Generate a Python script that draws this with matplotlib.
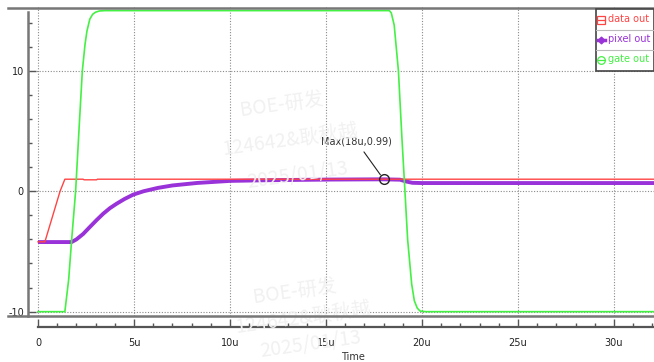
import matplotlib
matplotlib.use("Agg")
import numpy as np
from matplotlib import pyplot as plt
from matplotlib.lines import Line2D
from matplotlib.patches import Rectangle

# values (time in us)
gate_t = [0, 1.40, 1.60, 1.75, 1.96, 2.15, 2.31, 2.45, 2.55, 2.70, 2.85, 3.00, 3.20, 3.50,
          18.30, 18.40, 18.55, 18.77, 18.95, 19.11, 19.25, 19.46, 19.60, 19.75, 19.90, 20.20, 32.1]
gate_v = [-10, -10, -7.3, -4.1, 0, 5.5, 10, 12.2, 13.3, 14.3, 14.7, 14.87, 14.97, 15,
          15, 14.8, 13.8, 10, 4.5, 0, -4, -7.7, -9.1, -9.7, -9.95, -10, -10]

data_t = [0, 0.36, 1.15, 1.40, 2.35, 2.40, 3.05, 3.10, 32.1]
data_v = [-4.2, -4.2, 0, 1.0, 1.0, 0.95, 0.95, 1.0, 1.0]

pix_t = [0, 1.75, 2.0, 2.35, 2.7, 3.05, 3.4, 3.75, 4.1, 4.5, 4.96, 5.5, 6.25, 7.0, 8.3,
         10.0, 12.1, 15.2, 18.0, 18.85, 19.2, 19.5, 20.0, 32.1]
pix_v = [-4.22, -4.22, -4.0, -3.55, -2.97, -2.4, -1.86, -1.4, -1.03, -0.65, -0.28, 0.0, 0.28,
         0.48, 0.69, 0.86, 0.92, 0.97, 0.99, 0.96, 0.8, 0.7, 0.68, 0.68]

x_ticks = [0, 5, 10, 15, 20, 25, 30]
x_labels = ["0", "5u", "10u", "15u", "20u", "25u", "30u"]
y_ticks = [-10, 0, 10]
y_labels = ["-10", "0", "10"]

max_pt = (18, 0.99)
max_label = "Max(18u,0.99)"

names = ["data out", "pixel out", "gate out"]
colors = ["#ff4444", "#9932d8", "#44f044"]

W, H = 654, 362
XMIN, XMAX = -0.52, 32.08
YMIN, YMAX = -10.36, 15.3


def fx(px):
    return px / W


def fy(py):
    return 1 - py / H


def main():
    fig = plt.figure(figsize=(6.54, 3.62), dpi=100)
    fig.patch.set_facecolor("white")

    # faint watermark (only the tiles that sit fully inside the picture)
    wm = ["BOE-研发", "124642&耿秋越", "2025/01/13"]
    for ox, oy, step in [(282, 105, 35), (295, 292, 26)]:
        for i, s in enumerate(wm):
            fig.text(fx(ox + i * 8), fy(oy + i * step), s, color="#f1f1f1",
                     fontsize=14, rotation=8, ha="center", va="center",
                     family=["Noto Sans CJK SC", "DejaVu Sans"], zorder=0)

    ax = fig.add_axes([fx(28), fy(316), fx(654) - fx(28), fy(7) - fy(316)])
    ax.patch.set_alpha(0)
    ax.set_xlim(XMIN, XMAX)
    ax.set_ylim(YMIN, YMAX)

    ax.plot(data_t, data_v, color=colors[0], lw=1.0, zorder=3)
    ax.plot(pix_t, pix_v, color=colors[1], lw=2.8, zorder=2, solid_capstyle="butt")
    ax.plot(gate_t, gate_v, color=colors[2], lw=1.2, zorder=4)

    for x in x_ticks:
        ax.axvline(x, color="#8a8a8a", lw=0.8, ls=(0, (1, 1.5)), zorder=1)
    for y in y_ticks:
        ax.axhline(y, color="#8a8a8a", lw=0.8, ls=(0, (1, 1.5)), zorder=1)

    for s in ["top", "right", "bottom"]:
        ax.spines[s].set_visible(False)
    ax.spines["left"].set_color("#777777")
    ax.spines["left"].set_linewidth(1.8)
    ax.spines["left"].set_bounds(YMIN, 14.9)
    ax.set_xticks([])
    ax.set_yticks(y_ticks)
    ax.set_yticklabels(y_labels)
    ax.set_yticks(np.arange(-10, 15, 2), minor=True)
    ax.tick_params(axis="y", which="major", direction="in", length=6, width=1,
                   color="#555555", labelsize=7, labelcolor="#222222", pad=3)
    ax.tick_params(axis="y", which="minor", direction="in", length=3, width=1,
                   color="#555555")

    # max marker and annotation
    ax.plot([max_pt[0]], [max_pt[1]], marker="o", ms=7, mfc="none", mec="#222222",
            mew=1.0, zorder=6)
    ax.annotate(max_label, xy=max_pt, xytext=(16.6, 4.1), fontsize=7, color="#333333",
                ha="center", va="center",
                arrowprops=dict(arrowstyle="-", color="#222222", lw=0.8,
                                shrinkA=2, shrinkB=4), zorder=6)

    # frame lines top and bottom
    for py in [7.5, 316]:
        fig.add_artist(Line2D([fx(8), 1], [fy(py), fy(py)], color="#777777", lw=1.8))

    # separate time axis
    ax2 = fig.add_axes([fx(28), fy(327), fx(654) - fx(28), 0.0001])
    ax2.set_xlim(XMIN, XMAX)
    ax2.patch.set_alpha(0)
    for s in ["top", "right", "left"]:
        ax2.spines[s].set_visible(False)
    ax2.spines["bottom"].set_color("#555555")
    ax2.spines["bottom"].set_linewidth(1.6)
    ax2.spines["bottom"].set_bounds(0, XMAX)
    ax2.set_yticks([])
    ax2.set_xticks(x_ticks)
    ax2.set_xticklabels(x_labels)
    ax2.set_xticks(np.arange(0, 33, 1), minor=True)
    ax2.tick_params(axis="x", which="major", direction="in", length=6, width=1,
                    color="#555555", labelsize=7, labelcolor="#222222", pad=8)
    ax2.tick_params(axis="x", which="minor", direction="in", length=3, width=1,
                    color="#555555")
    fig.text(fx(353), fy(357), "Time", fontsize=7, color="#333333",
             ha="center", va="center")

    # legend box
    fig.add_artist(Rectangle((fx(595.5), fy(70.5)), fx(654) - fx(595.5), fy(9) - fy(70.5),
                             fill=True, facecolor="white", edgecolor="#444444", lw=1.2,
                             zorder=10))
    for py in [29.5, 49.5]:
        fig.add_artist(Line2D([fx(596), 1], [fy(py), fy(py)], color="#bbbbbb", lw=0.8,
                              zorder=11))
    rows = [19.5, 39.5, 59.5]
    mk = ["s", "D", "o"]
    for i, name in enumerate(names):
        yy = fy(rows[i])
        lw = 2.5 if i == 1 else 0.9
        fig.add_artist(Line2D([fx(597.5), fx(605)], [yy, yy], color=colors[i], lw=lw,
                              zorder=12))
        fig.add_artist(Line2D([fx(601.2)], [yy], marker=mk[i],
                              ms=5.5 if i != 1 else 3.5,
                              mfc="none" if i != 1 else colors[i], mec=colors[i],
                              mew=0.9, zorder=12))
        fig.text(fx(607.5), yy, name, fontsize=7, color=colors[i], ha="left",
                 va="center", zorder=12)

    fig.savefig("out.png", dpi=100)


if __name__ == "__main__":
    main()
